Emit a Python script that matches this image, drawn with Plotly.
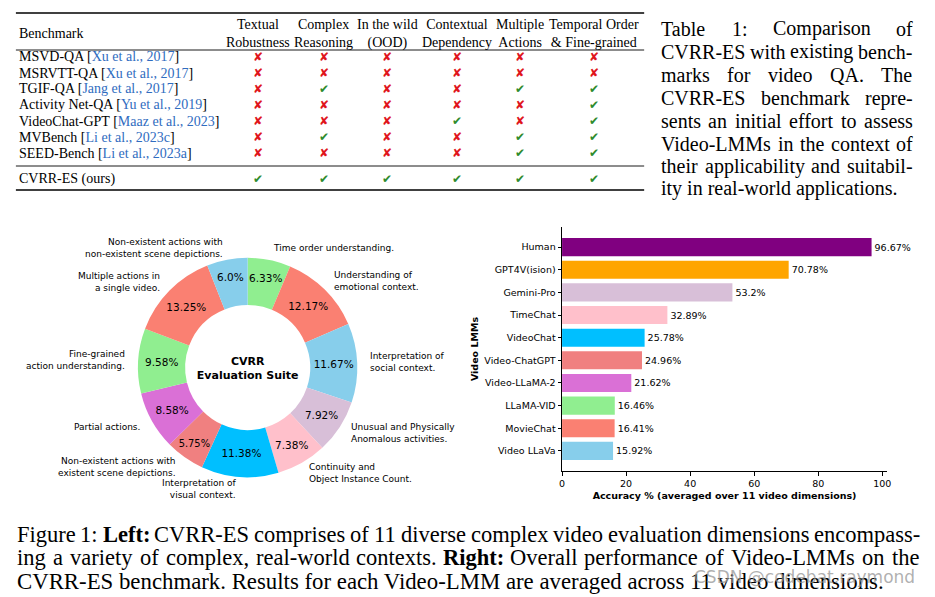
import math
import plotly.graph_objects as go

W, H = 935, 597
def px(x): return x / W
def py(y): return 1 - y / H

# ---------------- Table data ----------------
benchmarks = ["MSVD-QA", "MSRVTT-QA", "TGIF-QA", "Activity Net-QA", "VideoChat-GPT",
              "MVBench", "SEED-Bench", "CVRR-ES (ours)"]
citations = ["Xu et al., 2017", "Xu et al., 2017", "Jang et al., 2017", "Yu et al., 2019",
             "Maaz et al., 2023", "Li et al., 2023c", "Li et al., 2023a", ""]
criteria = ["Textual<br>Robustness", "Complex<br>Reasoning", "In the wild<br>(OOD)",
            "Contextual<br>Dependency", "Multiple<br>Actions", "Temporal Order<br>& Fine-grained"]
textual_robustness = [0, 0, 0, 0, 0, 0, 0, 1]
complex_reasoning = [0, 0, 1, 0, 0, 1, 0, 1]
in_the_wild = [0, 0, 0, 0, 0, 0, 0, 1]
contextual_dependency = [0, 0, 0, 0, 1, 0, 0, 1]
multiple_actions = [0, 0, 1, 0, 0, 1, 1, 1]
temporal_fine_grained = [0, 0, 1, 1, 1, 1, 1, 1]
criteria_marks = [textual_robustness, complex_reasoning, in_the_wild,
                  contextual_dependency, multiple_actions, temporal_fine_grained]

# ---------------- Donut data ----------------
dimensions = ["Time order understanding.", "Understanding of<br>emotional context.",
              "Interpretation of<br>social context.", "Unusual and Physically<br>Anomalous activities.",
              "Continuity and<br>Object Instance Count.", "Interpretation of<br>visual context.",
              "Non-existent actions with<br>existent scene depictions.", "Partial actions.",
              "Fine-grained<br>action understanding.", "Multiple actions in<br>a single video.",
              "Non-existent actions with<br>non-existent scene depictions."]
dimension_share = [6.33, 12.17, 11.67, 7.92, 7.38, 11.38, 5.75, 8.58, 9.58, 13.25, 6.0]
dimension_colors = ["#90EE90", "#FA8072", "#87CEEB", "#D8BFD8", "#FFC0CB", "#00BFFF",
                    "#F08080", "#DA70D6", "#90EE90", "#FA8072", "#87CEEB"]

# ---------------- Bar data ----------------
models = ["Human", "GPT4V(ision)", "Gemini-Pro", "TimeChat", "VideoChat", "Video-ChatGPT",
          "Video-LLaMA-2", "LLaMA-VID", "MovieChat", "Video LLaVa"]
accuracy = [96.67, 70.78, 53.2, 32.89, 25.78, 24.96, 21.62, 16.46, 16.41, 15.92]
model_colors = ["#800080", "#FFA500", "#D8BFD8", "#FFC0CB", "#00BFFF", "#F08080",
                "#DA70D6", "#90EE90", "#FA8072", "#87CEEB"]

# ---------------- Captions ----------------
table_caption = ["Table 1:  Comparison of", "CVRR-ES with existing bench-",
                 "marks for video QA. The", "CVRR-ES benchmark repre-",
                 "sents an initial effort to assess", "Video-LMMs in the context of",
                 "their applicability and suitabil-", "ity in real-world applications."]
figure_caption = [
    "Figure 1: **Left:** CVRR-ES comprises of 11 diverse complex video evaluation dimensions encompass-",
    "ing a variety of complex, real-world contexts. **Right:** Overall performance of Video-LMMs on the",
    "CVRR-ES benchmark. Results for each Video-LMM are averaged across 11 video dimensions.",
]

SERIF = "Liberation Serif"
SANS = "DejaVu Sans"

# Times-like glyph widths (em) for justified text layout
_w = {}
for c, v in zip("abcdefghijklmnopqrstuvwxyz",
                [.444, .5, .444, .5, .444, .333, .5, .5, .278, .278, .5, .278, .778, .5, .5, .5, .5,
                 .333, .389, .278, .5, .5, .722, .5, .5, .444]):
    _w[c] = v
for c, v in zip("ABCDEFGHIJKLMNOPQRSTUVWXYZ",
                [.722, .667, .667, .722, .611, .556, .722, .722, .333, .389, .722, .611, .889, .722,
                 .722, .556, .722, .667, .556, .611, .722, .722, .944, .722, .722, .611]):
    _w[c] = v
for c in "0123456789":
    _w[c] = .5
_w.update({" ": .25, "-": .333, ":": .278, ".": .25, ",": .25, "(": .333, ")": .333, "%": .833})

def text_w(s, size, bold=False):
    return sum(_w.get(c, .5) for c in s) * size * (1.06 if bold else 1.0)

annotations = []
shapes = []

def justified(line, x0, x1, y, size, justify=True):
    items = []
    for wd in line.split():
        bold = wd.startswith("**")
        items.append((wd.strip("*"), bold))
    if not justify:
        txt = " ".join(f"<b>{t}</b>" if b else t for t, b in items)
        annotations.append(dict(x=px(x0), y=py(y), xref="paper", yref="paper", text=txt,
                                showarrow=False, xanchor="left", yanchor="middle", borderpad=0,
                                font=dict(family=SERIF, size=size, color="black")))
        return
    total = sum(text_w(t, size, b) for t, b in items)
    gap = (x1 - x0 - total) / (len(items) - 1)
    x = x0
    for t, b in items:
        annotations.append(dict(x=px(x), y=py(y), xref="paper", yref="paper",
                                text=f"<b>{t}</b>" if b else t, showarrow=False,
                                xanchor="left", yanchor="middle", borderpad=0,
                                font=dict(family=SERIF, size=size, color="black")))
        x += text_w(t, size, b) + gap

# ---------------- Table ----------------
TX0, TX1 = 13, 646
for yy, lw in [(13, 1.4), (50, 0.9), (166, 0.9), (190, 1.4)]:
    shapes.append(dict(type="line", xref="paper", yref="paper", x0=px(TX0), x1=px(TX1),
                       y0=py(yy), y1=py(yy), line=dict(color="black", width=lw)))
annotations.append(dict(x=px(14), y=py(33), xref="paper", yref="paper", text="Benchmark",
                        showarrow=False, xanchor="left", yanchor="middle",
                        font=dict(family=SERIF, size=14, color="black")))
col_x = [257, 323, 387, 457, 521, 595]
for cx, crit in zip(col_x, criteria):
    annotations.append(dict(x=px(cx), y=py(33.5), xref="paper", yref="paper", text=crit,
                            showarrow=False, xanchor="center", yanchor="middle", align="center",
                            font=dict(family=SERIF, size=14, color="black")))
row_y = [57, 73, 89, 105, 121, 137, 153, 179]
for i, (ry, name, cite) in enumerate(zip(row_y, benchmarks, citations)):
    txt = name if not cite else f"{name} [<span style='color:#2f6cc0'>{cite}</span>]"
    annotations.append(dict(x=px(14), y=py(ry), xref="paper", yref="paper", text=txt,
                            showarrow=False, xanchor="left", yanchor="middle",
                            font=dict(family=SERIF, size=14, color="black")))
    for cx, marks in zip(col_x, criteria_marks):
        ok = marks[i]
        annotations.append(dict(x=px(cx), y=py(ry), xref="paper", yref="paper",
                                text="✔" if ok else "✘", showarrow=False,
                                xanchor="center", yanchor="middle",
                                font=dict(family=SANS, size=12,
                                          color="#2e8b2e" if ok else "#e0141c")))

# ---------------- Right caption ----------------
cap_y = [29, 52, 75, 98, 120.5, 143.5, 166, 189]
for k, (line, yy) in enumerate(zip(table_caption, cap_y)):
    justified(line, 662, 915, yy, 20, justify=(k < len(table_caption) - 1))

# ---------------- Bottom caption ----------------
fig_cap_y = [534, 557.5, 581]
for k, (line, yy) in enumerate(zip(figure_caption, fig_cap_y)):
    justified(line, 13, 922, yy, 22.8 if k == 2 else 22.5, justify=(k < 2))

# watermark
annotations.append(dict(x=px(921), y=py(577), xref="paper", yref="paper",
                        text="CSDN @codebat.raymond", showarrow=False, xanchor="right",
                        yanchor="middle", font=dict(family=SANS, size=17, color="rgba(150,150,150,0.75)")))

fig = go.Figure()

# ---------------- Donut ----------------
CX, CY, R = 246.5, 367.5, 110.5
fig.add_trace(go.Pie(
    values=dimension_share, labels=[d.replace("<br>", " ") for d in dimensions],
    text=[f"{v}%" for v in dimension_share], textinfo="text",
    textposition="inside", insidetextorientation="horizontal",
    textfont=dict(family=SANS, size=10.5, color="black"),
    marker=dict(colors=dimension_colors, line=dict(width=0)),
    hole=0.57, sort=False, direction="clockwise", rotation=0,
    domain=dict(x=[px(CX - R), px(CX + R)], y=[py(CY + R), py(CY - R)]),
    title=dict(text="<b>CVRR<br>Evaluation Suite</b>", position="middle center",
               font=dict(family=SANS, size=11, color="black")),
    showlegend=False, hoverinfo="label+percent",
))

# outer labels at 1.1 x radius (matplotlib labeldistance)
cum = 0.0
tot = sum(dimension_share)
for lab, v in zip(dimensions, dimension_share):
    mid = (cum + v / 2) / tot * 2 * math.pi
    cum += v
    lx = CX + 1.1 * R * math.sin(mid)
    ly = CY - 1.1 * R * math.cos(mid)
    right = math.sin(mid) >= 0
    annotations.append(dict(x=px(lx), y=py(ly), xref="paper", yref="paper", text=lab,
                            showarrow=False, xanchor="left" if right else "right",
                            yanchor="middle", align="left" if right else "right",
                            font=dict(family=SANS, size=9, color="black")))

# ---------------- Bars ----------------
fig.add_trace(go.Bar(
    x=accuracy, y=models, orientation="h", width=0.8,
    marker=dict(color=model_colors, line=dict(width=0)),
    text=[f"{v}%" for v in accuracy], textposition="outside", constraintext="none",
    textfont=dict(family=SANS, size=9.5, color="black"), cliponaxis=False,
    showlegend=False, xaxis="x", yaxis="y",
))

fig.update_layout(
    width=W, height=H, margin=dict(l=0, r=0, t=0, b=0),
    paper_bgcolor="white", plot_bgcolor="white",
    font=dict(family=SANS, color="black"),
    xaxis=dict(domain=[px(563.3), px(890.7)], range=[0, 101.5], tickvals=[0, 20, 40, 60, 80, 100],
               ticks="outside", ticklen=3.5, tickcolor="black", showline=True, linecolor="black",
               linewidth=1, showgrid=False, zeroline=False, anchor="y",
               tickfont=dict(family=SANS, size=9.5),
               title=dict(text="<b>Accuracy % (averaged over 11 video dimensions)</b>",
                          font=dict(family=SANS, size=9.5), standoff=4)),
    yaxis=dict(domain=[py(471), py(227)], type="category", categoryorder="array",
               categoryarray=models, range=[9.89, -0.89], ticks="outside", ticklen=3.5,
               tickcolor="black", showline=True, linecolor="black", linewidth=1,
               showgrid=False, zeroline=False, anchor="x",
               tickfont=dict(family=SANS, size=9.5),
               title=dict(text="<b>Video LMMs</b>", font=dict(family=SANS, size=9.5), standoff=4)),
    annotations=annotations, shapes=shapes,
)

fig.write_html("out.html", config={"displayModeBar": False},
               post_script="document.body.style.margin='0px';document.body.style.padding='0px';")
